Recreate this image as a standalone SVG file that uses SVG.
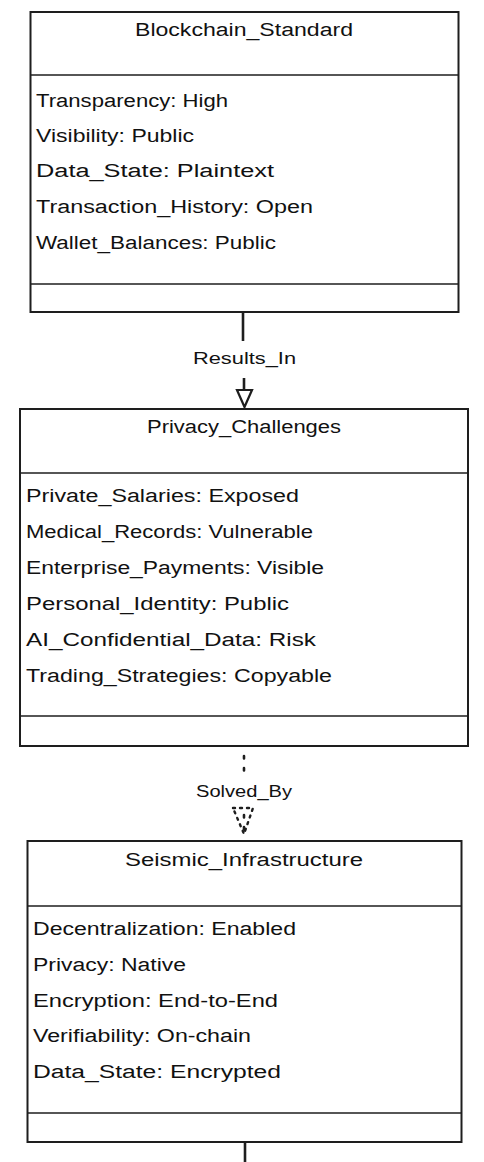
<svg xmlns="http://www.w3.org/2000/svg" width="484" height="1162" viewBox="0 0 484 1162">
<style>
.bg{fill:#ffffff}
.box{fill:#ffffff;stroke:#1e1e1e;stroke-width:2}
.div{stroke:#1e1e1e;stroke-width:1.6;fill:none}
.title{font-family:"Liberation Sans",Arial,sans-serif;font-size:18px;fill:#111;text-anchor:middle}
.attr{font-family:"Liberation Sans",Arial,sans-serif;font-size:18px;fill:#111}
.lbl{font-family:"Liberation Sans",Arial,sans-serif;font-size:16px;fill:#111;text-anchor:middle}
.edge{stroke:#1e1e1e;stroke-width:2.6;fill:none}
.dash{stroke:#1e1e1e;stroke-width:2.6;fill:none;stroke-dasharray:2.5 9.5;stroke-linecap:round}
.head{fill:#ffffff;stroke:#1e1e1e;stroke-width:2.2}
.dhead{fill:none;stroke:#1e1e1e;stroke-width:2.4;stroke-dasharray:2 5;stroke-linecap:round}
</style>
<rect class="bg" x="0" y="0" width="484" height="1162"/>

<g id="connectors">
  <path class="edge" d="M243,313 V341"/>
  <path class="edge" d="M244,378 V392"/>
  <polygon class="head" points="237,390 252,390 244.5,407"/>
  <text class="lbl" x="244.5" y="364" textLength="103" lengthAdjust="spacingAndGlyphs">Results_In</text>

  <path class="dash" d="M244,756 V772"/>
  <text class="lbl" x="244" y="797" textLength="96" lengthAdjust="spacingAndGlyphs">Solved_By</text>
  <polygon class="dhead" points="233,808 253,808 244,834"/>
  <path class="dash" d="M244,815 V833"/>

  <path class="edge" d="M245,1142 V1162"/>
</g>

<g id="Blockchain_Standard">
  <rect class="box" x="30.5" y="12" width="428" height="300"/>
  <line class="div" x1="30.5" y1="75" x2="458.5" y2="75"/>
  <line class="div" x1="30.5" y1="284" x2="458.5" y2="284"/>
  <text class="title" x="244" y="36" textLength="218" lengthAdjust="spacingAndGlyphs">Blockchain_Standard</text>
  <text class="attr" x="36" y="107" textLength="192" lengthAdjust="spacingAndGlyphs">Transparency: High</text>
  <text class="attr" x="36" y="142" textLength="158" lengthAdjust="spacingAndGlyphs">Visibility: Public</text>
  <text class="attr" x="36" y="177" textLength="238" lengthAdjust="spacingAndGlyphs">Data_State: Plaintext</text>
  <text class="attr" x="36" y="213" textLength="277" lengthAdjust="spacingAndGlyphs">Transaction_History: Open</text>
  <text class="attr" x="36" y="249" textLength="240" lengthAdjust="spacingAndGlyphs">Wallet_Balances: Public</text>
</g>

<g id="Privacy_Challenges">
  <rect class="box" x="20" y="409" width="448" height="337"/>
  <line class="div" x1="20" y1="473" x2="468" y2="473"/>
  <line class="div" x1="20" y1="716" x2="468" y2="716"/>
  <text class="title" x="244" y="433" textLength="194" lengthAdjust="spacingAndGlyphs">Privacy_Challenges</text>
  <text class="attr" x="26" y="502" textLength="273" lengthAdjust="spacingAndGlyphs">Private_Salaries: Exposed</text>
  <text class="attr" x="26" y="538" textLength="287" lengthAdjust="spacingAndGlyphs">Medical_Records: Vulnerable</text>
  <text class="attr" x="26" y="574" textLength="298" lengthAdjust="spacingAndGlyphs">Enterprise_Payments: Visible</text>
  <text class="attr" x="26" y="610" textLength="263" lengthAdjust="spacingAndGlyphs">Personal_Identity: Public</text>
  <text class="attr" x="26" y="646" textLength="290" lengthAdjust="spacingAndGlyphs">AI_Confidential_Data: Risk</text>
  <text class="attr" x="26" y="682" textLength="306" lengthAdjust="spacingAndGlyphs">Trading_Strategies: Copyable</text>
</g>

<g id="Seismic_Infrastructure">
  <rect class="box" x="27.5" y="841" width="434" height="301"/>
  <line class="div" x1="27.5" y1="906" x2="461.5" y2="906"/>
  <line class="div" x1="27.5" y1="1113" x2="461.5" y2="1113"/>
  <text class="title" x="244" y="866" textLength="238" lengthAdjust="spacingAndGlyphs">Seismic_Infrastructure</text>
  <text class="attr" x="33" y="935" textLength="263" lengthAdjust="spacingAndGlyphs">Decentralization: Enabled</text>
  <text class="attr" x="33" y="971" textLength="153" lengthAdjust="spacingAndGlyphs">Privacy: Native</text>
  <text class="attr" x="33" y="1007" textLength="245" lengthAdjust="spacingAndGlyphs">Encryption: End-to-End</text>
  <text class="attr" x="33" y="1042" textLength="218" lengthAdjust="spacingAndGlyphs">Verifiability: On-chain</text>
  <text class="attr" x="33" y="1078" textLength="248" lengthAdjust="spacingAndGlyphs">Data_State: Encrypted</text>
</g>
</svg>
